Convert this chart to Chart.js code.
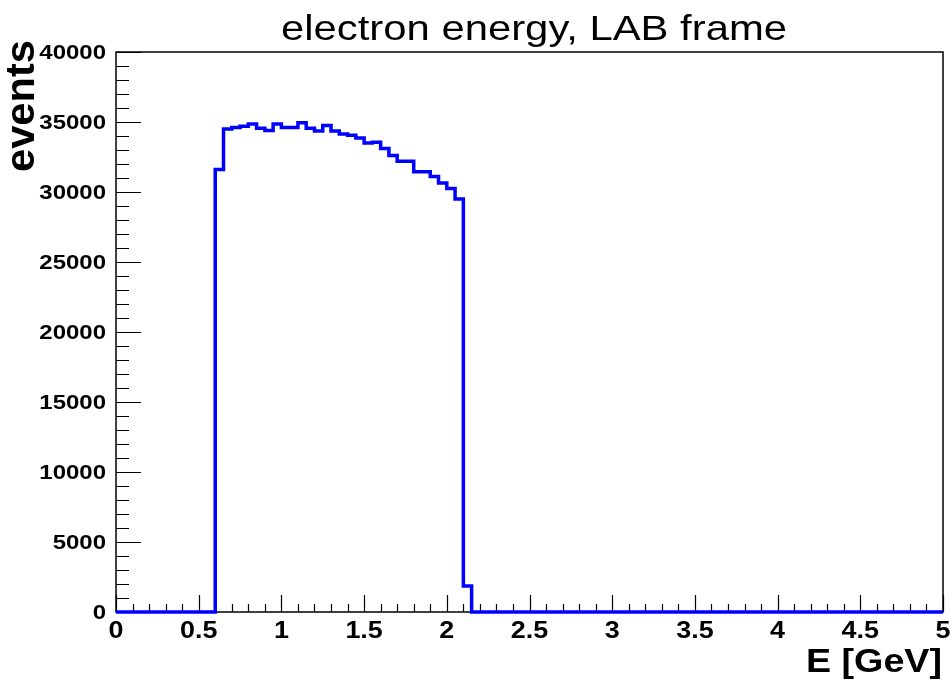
<!DOCTYPE html>
<html>
<head>
<meta charset="utf-8">
<script src="https://cdn.jsdelivr.net/npm/chart.js@4/dist/chart.umd.min.js"></script>
<style>
  html, body { margin: 0; padding: 0; background: #fff; }
  #wrap { width: 951px; height: 682px; position: relative; }
</style>
</head>
<body>
<div id="wrap"><canvas id="energyChart"></canvas></div>
<script>
// histogram binning: 100 bins of 0.05 GeV between 0 and 5
const xMin = 0;
const xMax = 5;
const binWidth = 0.05;
const firstFilledBin = 0.60; // lower edge of first non-empty bin

// bin contents from 0.60 GeV upwards, everything else is empty
const counts = [
  31600, 34500, 34600, 34700, 34850, 34550, 34400, 34850, 34600, 34600,
  34950, 34550, 34350, 34750, 34350, 34150, 34050, 33850, 33500, 33550,
  33100, 32600, 32200, 32200, 31450, 31450, 31100, 30650, 30250, 29500,
  1850
];

const yMax = 40000;
const xMajorTicks = [0, 0.5, 1, 1.5, 2, 2.5, 3, 3.5, 4, 4.5, 5];
const xTickLabels = ['0', '0.5', '1', '1.5', '2', '2.5', '3', '3.5', '4', '4.5', '5'];
const yMajorTicks = [0, 5000, 10000, 15000, 20000, 25000, 30000, 35000, 40000];
const yTickLabels = ['0', '5000', '10000', '15000', '20000', '25000', '30000', '35000', '40000'];
const xMinorStep = 0.1;
const yMinorStep = 1000;

const titleText = 'electron energy, LAB frame';
const xTitle = 'E [GeV]';
const yTitle = 'events';

const FONT = "'Liberation Sans', Arial, Helvetica, sans-serif";

// turn bin contents into an outline: two points per bin (low and high edge)
function buildOutline() {
  const pts = [];
  const nBins = Math.round((xMax - xMin) / binWidth);
  const offset = Math.round((firstFilledBin - xMin) / binWidth);
  for (let i = 0; i < nBins; i++) {
    const lo = Math.round((xMin + i * binWidth) * 1000) / 1000;
    const hi = Math.round((xMin + (i + 1) * binWidth) * 1000) / 1000;
    const k = i - offset;
    const v = (k >= 0 && k < counts.length) ? counts[k] : 0;
    pts.push({ x: lo, y: v });
    pts.push({ x: hi, y: v });
  }
  return pts;
}

// draw text squeezed/stretched horizontally to a given width
function fitText(ctx, text, font, x, y, width, align, angle) {
  ctx.save();
  ctx.font = font;
  const w = ctx.measureText(text).width;
  const sx = width ? width / w : 1;
  ctx.translate(x, y);
  if (angle) ctx.rotate(angle);
  ctx.scale(sx, 1);
  ctx.textAlign = align || 'left';
  ctx.textBaseline = 'alphabetic';
  ctx.fillStyle = '#000';
  ctx.fillText(text, 0, 0);
  ctx.restore();
}

// ROOT-style frame with inward ticks, labels and titles
const rootFrame = {
  id: 'rootFrame',
  beforeDatasetsDraw(chart) {
    const { ctx, chartArea: a, scales } = chart;
    const xs = scales.x, ys = scales.y;
    ctx.save();
    ctx.strokeStyle = '#000';
    ctx.lineWidth = 1.5;
    ctx.strokeRect(a.left, a.top, a.right - a.left, a.bottom - a.top);

    ctx.lineWidth = 1.2;
    ctx.beginPath();
    // x ticks, pointing up into the frame
    const nx = Math.round((xMax - xMin) / xMinorStep);
    for (let i = 0; i <= nx; i++) {
      const v = xMin + i * xMinorStep;
      const px = Math.round(xs.getPixelForValue(v)) + 0.5;
      const len = (i % 5 === 0) ? 17 : 8;
      ctx.moveTo(px, a.bottom);
      ctx.lineTo(px, a.bottom - len);
    }
    // y ticks, pointing right into the frame
    const ny = Math.round(yMax / yMinorStep);
    for (let i = 0; i <= ny; i++) {
      const v = i * yMinorStep;
      const py = Math.round(ys.getPixelForValue(v)) + 0.5;
      const len = (i % 5 === 0) ? 25 : 13;
      ctx.moveTo(a.left, py);
      ctx.lineTo(a.left + len, py);
    }
    ctx.stroke();
    ctx.restore();
  },
  afterDraw(chart) {
    const { ctx, scales } = chart;
    const xs = scales.x, ys = scales.y;
    const tickFontX = 'bold 23px ' + FONT;
    const tickFontY = 'bold 20.5px ' + FONT;

    ctx.save();
    ctx.font = tickFontX;
    xMajorTicks.forEach((v, i) => {
      const w = ctx.measureText(xTickLabels[i]).width * 1.17;
      fitText(ctx, xTickLabels[i], tickFontX, xs.getPixelForValue(v), 638, w, 'center');
    });
    ctx.font = tickFontY;
    yMajorTicks.forEach((v, i) => {
      const w = ctx.measureText(yTickLabels[i]).width * 1.17;
      fitText(ctx, yTickLabels[i], tickFontY, 106, ys.getPixelForValue(v) + 7.3, w, 'right');
    });
    ctx.restore();

    fitText(ctx, titleText, '35px ' + FONT, 534, 40, 506, 'center');
    fitText(ctx, xTitle, 'bold 34px ' + FONT, 942, 672, 136, 'right');
    fitText(ctx, yTitle, 'bold 40px ' + FONT, 33.5, 172, 132, 'left', -Math.PI / 2);
  }
};

const ctx = document.getElementById('energyChart').getContext('2d');
const energyChart = new Chart(ctx, {
  type: 'line',
  data: {
    datasets: [{
      label: 'electron energy',
      data: buildOutline(),
      borderColor: '#0000ff',
      borderWidth: 3.5,
      pointRadius: 0,
      fill: false,
      tension: 0,
      clip: false
    }]
  },
  options: {
    responsive: true,
    maintainAspectRatio: false,
    animation: false,
    layout: {
      padding: { left: 116, right: 8, top: 52, bottom: 70 }
    },
    scales: {
      x: { type: 'linear', min: xMin, max: xMax, display: false },
      y: { type: 'linear', min: 0, max: yMax, display: false }
    },
    plugins: {
      legend: { display: false },
      tooltip: { enabled: false },
      title: { display: false }
    }
  },
  plugins: [rootFrame]
});
</script>
</body>
</html>
